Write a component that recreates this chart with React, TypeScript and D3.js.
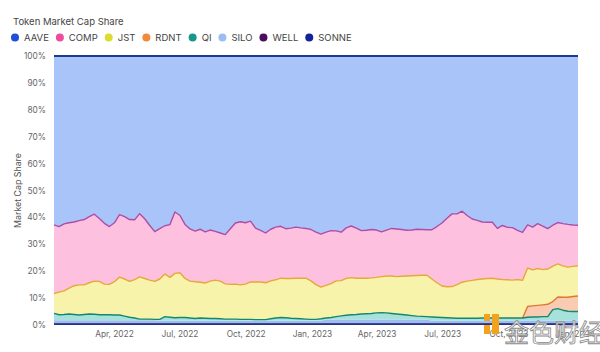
import React from "react";
import * as d3 from "d3";

// weekly market cap share (%), first point on 2022-01-07
const SONNE = [
  0.3, 0.3, 0.3, 0.3, 0.3, 0.3, 0.3, 0.3, 0.3, 0.3,
  0.3, 0.3, 0.3, 0.3, 0.3, 0.3, 0.3, 0.3, 0.3, 0.3,
  0.3, 0.3, 0.3, 0.3, 0.3, 0.3, 0.3, 0.3, 0.3, 0.3,
  0.3, 0.3, 0.3, 0.3, 0.3, 0.3, 0.3, 0.3, 0.3, 0.3,
  0.3, 0.3, 0.3, 0.3, 0.3, 0.3, 0.3, 0.3, 0.3, 0.3,
  0.3, 0.3, 0.3, 0.3, 0.3, 0.3, 0.3, 0.3, 0.3, 0.3,
  0.3, 0.3, 0.3, 0.3, 0.3, 0.3, 0.3, 0.3, 0.3, 0.3,
  0.3, 0.3, 0.3, 0.3, 0.3, 0.3, 0.3, 0.3, 0.3, 0.3,
  0.3, 0.3, 0.3, 0.3, 0.3, 0.3, 0.3, 0.3, 0.3, 0.3,
  0.3, 0.3, 0.3, 0.3, 0.3, 0.3, 0.3, 0.3, 0.3, 0.3,
  0.3, 0.3, 0.3, 0.3, 0.3,
];
const WELL = [
  0.3, 0.3, 0.3, 0.3, 0.3, 0.3, 0.3, 0.3, 0.3, 0.3,
  0.3, 0.3, 0.3, 0.3, 0.3, 0.3, 0.3, 0.3, 0.3, 0.3,
  0.3, 0.3, 0.3, 0.3, 0.3, 0.3, 0.3, 0.3, 0.3, 0.3,
  0.3, 0.3, 0.3, 0.3, 0.3, 0.3, 0.3, 0.3, 0.3, 0.3,
  0.3, 0.3, 0.3, 0.3, 0.3, 0.3, 0.3, 0.3, 0.3, 0.3,
  0.3, 0.3, 0.3, 0.3, 0.3, 0.3, 0.3, 0.3, 0.3, 0.3,
  0.3, 0.3, 0.3, 0.3, 0.3, 0.3, 0.3, 0.3, 0.3, 0.3,
  0.3, 0.3, 0.3, 0.3, 0.3, 0.3, 0.3, 0.3, 0.3, 0.3,
  0.3, 0.3, 0.3, 0.3, 0.3, 0.3, 0.3, 0.3, 0.3, 0.3,
  0.3, 0.3, 0.3, 0.3, 0.3, 0.3, 0.3, 0.3, 0.3, 0.3,
  0.3, 0.3, 0.3, 0.3, 0.3,
];
const AAVE = [
  1.2, 1.2, 1.2, 1.2, 1.2, 1.2, 1.2, 1.2, 1.2, 1.2,
  1.2, 1.2, 1.2, 1.2, 1.2, 1.2, 1.2, 1.2, 1.2, 1.2,
  1.2, 1.0, 1.0, 1.0, 1.0, 1.0, 1.0, 1.0, 1.0, 1.0,
  1.0, 1.0, 1.0, 1.0, 1.0, 1.0, 1.0, 1.0, 1.0, 1.0,
  1.0, 1.0, 1.0, 1.0, 1.0, 1.0, 1.0, 1.0, 1.0, 1.0,
  1.0, 1.0, 1.0, 1.0, 1.4, 1.4, 1.4, 1.4, 1.4, 1.4,
  1.4, 1.4, 1.4, 1.4, 1.4, 1.4, 1.4, 1.4, 1.4, 1.4,
  1.4, 1.4, 1.4, 1.4, 1.4, 1.0, 1.0, 1.0, 1.0, 1.0,
  1.0, 1.0, 1.0, 1.0, 1.0, 1.0, 1.0, 1.0, 1.0, 1.0,
  1.0, 1.0, 1.0, 1.0, 1.0, 1.0, 1.0, 1.0, 1.0, 1.0,
  1.0, 1.0, 1.0, 1.0, 1.0,
];
const QI = [
  2.5, 2.0, 2.1, 2.3, 2.1, 1.9, 2.1, 2.3, 2.2, 2.0,
  2.0, 2.0, 1.9, 1.9, 1.5, 1.1, 0.8, 0.4, 0.4, 0.4,
  0.3, 0.5, 1.5, 1.3, 1.1, 1.2, 1.2, 1.0, 0.8, 1.0,
  0.9, 0.8, 0.8, 0.7, 0.6, 0.6, 0.6, 0.5, 0.5, 0.5,
  0.4, 0.4, 0.4, 0.7, 1.0, 1.2, 1.1, 0.9, 0.8, 0.7,
  0.6, 0.5, 0.5, 0.7, 0.6, 0.8, 1.1, 1.4, 1.6, 1.8,
  1.9, 2.1, 2.2, 2.3, 2.5, 2.6, 2.5, 2.3, 2.1, 1.9,
  1.7, 1.5, 1.3, 1.2, 1.1, 1.4, 1.3, 1.2, 1.1, 1.0,
  0.9, 0.9, 0.9, 0.9, 0.9, 1.0, 1.0, 1.0, 1.0, 1.0,
  1.0, 1.0, 1.0, 1.0, 1.3, 1.4, 1.4, 1.5, 1.5, 4.1,
  4.5, 3.9, 3.5, 3.4, 3.4,
];
const RDNT = [
  0, 0, 0, 0, 0, 0, 0, 0, 0, 0,
  0, 0, 0, 0, 0, 0, 0, 0, 0, 0,
  0, 0, 0, 0, 0, 0, 0, 0, 0, 0,
  0, 0, 0, 0, 0, 0, 0, 0, 0, 0,
  0, 0, 0, 0, 0, 0, 0, 0, 0, 0,
  0, 0, 0, 0, 0, 0, 0, 0, 0, 0,
  0, 0, 0, 0, 0, 0, 0, 0, 0, 0,
  0, 0, 0, 0, 0, 0, 0, 0, 0, 0,
  0, 0, 0, 0, 0, 0, 0, 0, 0, 0,
  0, 0, 0, 0, 4.0, 4.1, 4.3, 4.4, 4.6, 3.0,
  4.3, 4.8, 5.2, 5.6, 5.8,
];
const JST = [
  7.4, 8.4, 8.8, 9.6, 10.7, 11.2, 11.0, 11.6, 12.3, 12.4,
  11.4, 11.3, 12.4, 14.1, 13.8, 13.3, 14.3, 15.7, 15.1, 14.5,
  14.1, 15.0, 15.9, 14.8, 16.5, 16.6, 14.5, 13.7, 13.7, 13.3,
  13.1, 13.9, 14.3, 14.0, 13.1, 12.9, 13.0, 12.8, 13.1, 13.9,
  14.0, 14.0, 13.7, 14.1, 14.2, 14.6, 14.6, 14.8, 15.0, 15.1,
  15.2, 14.3, 12.9, 11.8, 12.1, 12.6, 13.3, 13.1, 13.7, 13.8,
  13.5, 13.3, 13.2, 13.2, 13.2, 13.4, 13.7, 13.9, 13.9, 14.2,
  14.5, 14.8, 15.1, 15.3, 15.4, 14.1, 12.8, 11.7, 11.5, 11.7,
  12.5, 13.4, 13.8, 14.1, 14.4, 14.5, 14.7, 14.8, 14.5, 14.3,
  14.2, 14.1, 14.3, 14.0, 14.3, 13.4, 13.7, 13.1, 13.1, 13.2,
  12.3, 11.7, 11.2, 11.2, 11.2,
];
const COMP = [
  25.5, 24.4, 24.9, 24.3, 23.7, 23.9, 24.3, 24.6, 24.9, 23.4,
  22.6, 21.5, 21.9, 23.2, 23.2, 23.0, 22.2, 23.5, 22.2, 20.3,
  18.5, 18.7, 17.9, 19.6, 22.8, 21.3, 20.1, 19.4, 18.8, 19.7,
  19.0, 19.0, 18.1, 17.9, 18.3, 20.7, 22.7, 23.5, 22.8, 22.6,
  20.0, 19.2, 18.5, 19.2, 19.6, 19.3, 18.5, 18.7, 19.0, 18.7,
  18.5, 19.1, 19.5, 19.7, 19.8, 19.7, 18.6, 18.0, 18.8, 19.2,
  18.6, 17.7, 17.8, 18.0, 17.6, 16.6, 17.1, 17.7, 17.7, 17.4,
  17.0, 17.0, 17.2, 17.0, 16.9, 18.3, 20.9, 23.4, 25.5, 27.0,
  26.3, 26.4, 24.4, 22.8, 22.0, 21.2, 20.9, 20.8, 18.8, 20.1,
  19.5, 19.5, 18.3, 17.8, 16.0, 15.9, 16.7, 16.2, 15.0, 15.2,
  15.4, 15.7, 15.9, 15.4, 15.1,
];
const SILO = [
  62.8, 63.4, 62.4, 62.0, 61.7, 61.2, 60.8, 59.7, 58.8, 60.4,
  62.2, 63.4, 62.0, 59.0, 59.7, 60.8, 60.9, 58.6, 60.5, 63.0,
  65.3, 64.2, 63.1, 62.7, 58.0, 59.3, 62.6, 64.3, 65.1, 64.4,
  65.4, 64.7, 65.2, 65.8, 66.4, 64.2, 62.1, 61.6, 62.0, 61.4,
  64.0, 64.8, 65.8, 64.4, 63.6, 63.3, 64.2, 64.0, 63.6, 63.9,
  64.1, 64.5, 65.5, 66.2, 65.5, 64.9, 65.0, 65.5, 63.9, 63.2,
  64.0, 64.9, 64.8, 64.5, 64.7, 65.4, 64.7, 64.1, 64.3, 64.5,
  64.8, 64.7, 64.4, 64.5, 64.6, 64.6, 63.4, 62.1, 60.3, 58.7,
  58.7, 57.7, 59.3, 60.6, 61.1, 61.7, 61.8, 61.8, 64.1, 63.0,
  63.7, 63.8, 64.8, 65.6, 62.8, 63.6, 62.3, 63.2, 64.2, 62.9,
  61.9, 62.3, 62.6, 62.8, 62.9,
];

const LEGEND = ["AAVE", "COMP", "JST", "RDNT", "QI", "SILO", "WELL", "SONNE"];
const STACK_KEYS = ["SONNE", "WELL", "AAVE", "QI", "RDNT", "JST", "COMP", "SILO"];
const Y_TICKS = [0, 10, 20, 30, 40, 50, 60, 70, 80, 90, 100];

const dotColor: Record<string, string> = {
  AAVE: "#1f4fd6",
  COMP: "#f04c9f",
  JST: "#dcdc2e",
  RDNT: "#f28a3c",
  QI: "#17978a",
  SILO: "#9dbdf0",
  WELL: "#4b0d5c",
  SONNE: "#12249a",
};
const fillColor: Record<string, string> = {
  SONNE: "#27287e",
  WELL: "#3b1d6a",
  AAVE: "#9fbcee",
  QI: "#a6e1dc",
  RDNT: "#f9cbb2",
  JST: "#f8f3aa",
  COMP: "#fdc1df",
  SILO: "#a9c4f9",
};
const lineColor: Record<string, string> = {
  SILO: "#1e3a8e",
  COMP: "#ad4ea6",
  JST: "#e6a83a",
  RDNT: "#e0782f",
  QI: "#16876f",
};

const W = 600,
  H = 352;
const margin = { top: 56, right: 22, bottom: 27, left: 54 };
const FONT = "Inter, 'Noto Sans', sans-serif";
const LEGEND_SIZE = 9.5;

// measure label widths so legend items sit right after each other
const textWidth = (s: string, size: number) => {
  const ctx = document.createElement("canvas").getContext("2d");
  if (!ctx) return s.length * size * 0.62;
  ctx.font = `${size}px Inter`;
  return ctx.measureText(s).width;
};

export default function App() {
  const raw: Record<string, number[]> = { SONNE, WELL, AAVE, QI, RDNT, JST, COMP, SILO };
  const start = new Date(2022, 0, 7);
  const rows = SILO.map((_, i) => {
    const r: any = { date: d3.timeDay.offset(start, 7 * i) };
    STACK_KEYS.forEach((k) => (r[k] = raw[k][i]));
    return r;
  });

  const x = d3
    .scaleTime()
    .domain(d3.extent(rows, (d: any) => d.date) as [Date, Date])
    .range([margin.left, W - margin.right]);
  const y = d3.scaleLinear().domain([0, 1]).range([H - margin.bottom, margin.top]);

  const series = d3.stack().keys(STACK_KEYS).offset(d3.stackOffsetExpand)(rows);

  const area = d3
    .area<any>()
    .x((d) => x(d.data.date))
    .y0((d) => y(d[0]))
    .y1((d) => y(d[1]));
  const topLine = d3
    .line<any>()
    .x((d) => x(d.data.date))
    .y((d) => y(d[1]));

  const xTicks = x.ticks(d3.timeMonth.every(3) as any);
  const fmt = d3.timeFormat("%b, %Y");

  let lx = 15;
  const legendItems = LEGEND.map((k) => {
    const item = { k, cx: lx, tx: lx + 9 };
    lx += 9 + textWidth(k, LEGEND_SIZE) + 11;
    return item;
  });

  const lineOrder = ["SILO", "COMP", "JST", "RDNT", "QI"];

  return (
    <svg
      width={W}
      height={H}
      style={{ position: "absolute", left: 0, top: 0, background: "#fff" }}
      fontFamily={FONT}
    >
      <text x={13} y={25} fontSize={9.5} fill="#444">
        Token Market Cap Share
      </text>
      {legendItems.map((it) => (
        <g key={it.k}>
          <circle cx={it.cx} cy={37.5} r={4} fill={dotColor[it.k]} />
          <text x={it.tx} y={41} fontSize={LEGEND_SIZE} fill="#444">
            {it.k}
          </text>
        </g>
      ))}

      {series.map((s) => (
        <path key={s.key} d={area(s as any) || ""} fill={fillColor[s.key]} />
      ))}
      {lineOrder.map((k) => {
        const s = series.find((d) => d.key === k)!;
        const gen =
          k === "RDNT"
            ? topLine.defined((_d: any, i: number) => RDNT[i] > 0 || (RDNT[i + 1] ?? 0) > 0)
            : topLine.defined(() => true);
        return (
          <path
            key={k}
            d={gen(s as any) || ""}
            fill="none"
            stroke={lineColor[k]}
            strokeWidth={k === "SILO" ? 2 : 1.4}
            strokeLinejoin="round"
          />
        );
      })}
      <line
        x1={margin.left}
        x2={W - margin.right}
        y1={y(0) - 1}
        y2={y(0) - 1}
        stroke="#1b2a82"
        strokeWidth={1.5}
      />

      {Y_TICKS.map((t) => (
        <text
          key={t}
          x={46}
          y={y(t / 100) + 3}
          fontSize={8.3}
          fill="#666"
          textAnchor="end"
        >
          {t}%
        </text>
      ))}
      <text
        transform={`translate(21,${(margin.top + H - margin.bottom) / 2}) rotate(-90)`}
        fontSize={8.8}
        fill="#555"
        textAnchor="middle"
      >
        Market Cap Share
      </text>
      {xTicks.map((t) => (
        <text
          key={+t}
          x={x(t)}
          y={337}
          fontSize={8.3}
          fill="#666"
          textAnchor="middle"
        >
          {fmt(t)}
        </text>
      ))}

      {/* site watermark */}
      <g>
        <rect x={484} y={314} width={6} height={7} fill="#f3a21c" />
        <rect x={492} y={314} width={7} height={20} fill="#f3a21c" />
        <rect x={484} y={325} width={6} height={9} fill="#f3a21c" />
        <text
          x={504}
          y={342}
          fontSize={25}
          fontFamily="'Noto Sans CJK SC'"
          fill="#ffffff"
          fillOpacity={0.85}
          stroke="#8a8a8a"
          strokeWidth={0.8}
        >
          金色财经
        </text>
      </g>
    </svg>
  );
}
